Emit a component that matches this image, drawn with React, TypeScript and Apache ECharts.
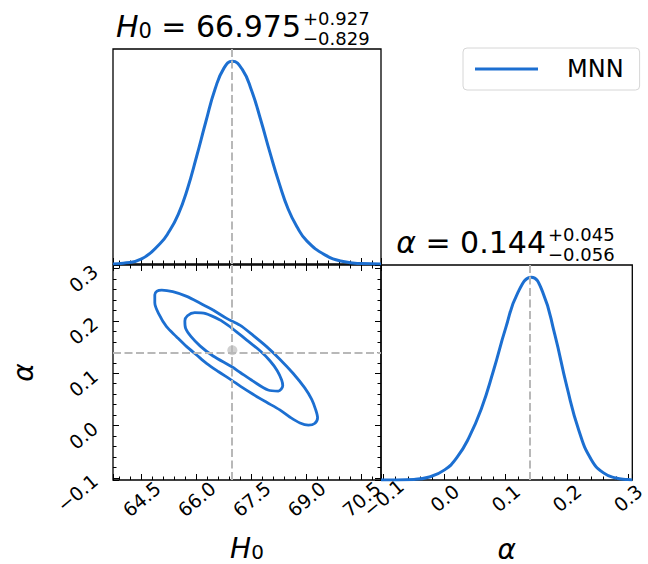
import { useEffect, useRef } from 'react';
import * as echarts from 'echarts';

// ---- 1D marginal of H0 (relative density) ----
const h0Grid = [63.72, 64.0, 64.5, 65.0, 65.25, 65.5, 65.75, 66.0, 66.25, 66.5, 66.75, 66.975, 67.25, 67.5, 67.75, 68.0, 68.25, 68.5, 68.75, 69.0, 69.5, 70.0, 70.5, 71.03];
const h0Density = [0.0, 0.004, 0.025, 0.1, 0.16, 0.245, 0.37, 0.53, 0.7, 0.86, 0.967, 1.0, 0.958, 0.855, 0.71, 0.55, 0.4, 0.27, 0.18, 0.115, 0.045, 0.012, 0.002, 0.0];

// ---- 1D marginal of alpha ----
const alphaGrid = [-0.104, -0.05, -0.025, 0.0, 0.02, 0.04, 0.06, 0.08, 0.1, 0.12, 0.142, 0.16, 0.18, 0.2, 0.22, 0.24, 0.26, 0.28, 0.3, 0.307];
const alphaDensity = [0.0, 0.003, 0.015, 0.05, 0.11, 0.21, 0.35, 0.54, 0.75, 0.925, 1.0, 0.93, 0.72, 0.46, 0.24, 0.1, 0.035, 0.01, 0.002, 0.0];

// ---- 2D contours (outer = 95%, inner = 68%) ----
const outerH0 = [66.45, 66.82, 67.18, 67.55, 67.91, 68.27, 68.63, 68.95, 69.14, 69.25, 69.3, 69.22, 69.05, 68.82, 68.55, 68.27, 67.9, 67.54, 67.2, 66.95, 66.6, 66.27, 66.0, 65.73, 65.45, 65.18, 64.98, 64.86, 64.86, 64.92, 65.05, 65.35, 65.73, 66.1, 66.45];
const outerAlpha = [0.221, 0.205, 0.192, 0.172, 0.151, 0.127, 0.1, 0.072, 0.05, 0.03, 0.015, 0.004, 0.001, 0.005, 0.016, 0.03, 0.045, 0.06, 0.075, 0.087, 0.103, 0.119, 0.135, 0.151, 0.17, 0.189, 0.212, 0.235, 0.25, 0.257, 0.259, 0.256, 0.247, 0.234, 0.221];
const innerH0 = [66.64, 66.97, 67.36, 67.73, 68.0, 68.2, 68.32, 68.35, 68.23, 67.95, 67.54, 67.2, 66.95, 66.45, 66.1, 65.85, 65.7, 65.68, 65.75, 65.95, 66.25, 66.64];
const innerAlpha = [0.202, 0.186, 0.164, 0.143, 0.124, 0.105, 0.087, 0.076, 0.066, 0.068, 0.085, 0.101, 0.113, 0.133, 0.152, 0.17, 0.186, 0.2, 0.21, 0.216, 0.214, 0.202];

// ---- best fit values, errors and axis ticks ----
const h0Best = 66.975;
const h0Err = ['+0.927', '\u22120.829'];
const alphaBest = 0.144;
const alphaErr = ['+0.045', '\u22120.056'];
const h0Ticks = [64.5, 66.0, 67.5, 69.0, 70.5];
const alphaTicks = [-0.1, 0.0, 0.1, 0.2, 0.3];
const h0Range = [63.72, 71.03];
const alphaRange = [-0.104, 0.307];
const legendName = 'MNN';

const BLUE = '#1c6fd1';
const GRAY = '#b8b8b8';
const FONT = 'DejaVu Sans';

const fmtTick = (ticks: number[]) => (v: number) => {
  const hit = ticks.find((t) => Math.abs(t - v) < 1e-6);
  return hit === undefined ? '' : hit.toFixed(1).replace('-', '\u2212');
};

const tick = { show: true, inside: true, length: 6, lineStyle: { color: '#000', width: 1 } };
const minor = { show: true, splitNumber: 5, length: 3.5, lineStyle: { color: '#000', width: 1 } };
const noLine = { show: false, onZero: false };

const h0AxisBase = {
  type: 'value',
  min: h0Range[0],
  max: h0Range[1],
  minInterval: 1.5,
  maxInterval: 1.5,
  axisLine: noLine,
  axisTick: tick,
  minorTick: minor,
  splitLine: { show: false },
};
const alphaAxisBase = {
  type: 'value',
  min: alphaRange[0],
  max: alphaRange[1],
  minInterval: 0.1,
  maxInterval: 0.1,
  axisLine: noLine,
  axisTick: tick,
  minorTick: minor,
  splitLine: { show: false },
};
const densAxis = {
  type: 'value',
  min: 0,
  max: 1.06,
  show: false,
  axisLine: noLine,
  splitLine: { show: false },
};

const labelBase = { fontFamily: FONT, fontSize: 19, color: '#000', rotate: 40 };
const dashed = { color: GRAY, type: [8, 3.5], width: 2 };

const gridBase = { show: true, borderColor: '#000', borderWidth: 1.3, containLabel: false };

const titleRich = {
  i: { fontFamily: FONT, fontStyle: 'italic', fontSize: 30, fill: '#000' },
  s: { fontFamily: FONT, fontSize: 21, fill: '#000', verticalAlign: 'bottom' },
  n: { fontFamily: FONT, fontSize: 30, fill: '#000' },
};

export default function App() {
  const ref = useRef<HTMLDivElement>(null);
  useEffect(() => {
    if (!ref.current) return;
    const chart = echarts.init(ref.current, undefined, { renderer: 'svg' });
    const h0Line = h0Grid.map((x, i) => [x, h0Density[i]]);
    const alphaLine = alphaGrid.map((x, i) => [x, alphaDensity[i]]);
    const outer = outerH0.map((x, i) => [x, outerAlpha[i]]);
    const inner = innerH0.map((x, i) => [x, innerAlpha[i]]);

    const errText = (err: string[]) => ({
      text: err.join('\n'),
      fontFamily: FONT,
      fontSize: 18,
      lineHeight: 20,
      fill: '#000',
      align: 'left',
      verticalAlign: 'middle',
    });

    const option: any = {
      animation: false,
      textStyle: { fontFamily: FONT },
      grid: [
        { ...gridBase, left: 113, top: 49, width: 268, height: 215 },
        { ...gridBase, left: 113, top: 265, width: 268, height: 215 },
        { ...gridBase, left: 381, top: 265, width: 266, height: 215 },
      ],
      xAxis: [
        { ...h0AxisBase, gridIndex: 0, position: 'bottom', axisLabel: { show: false } },
        {
          ...h0AxisBase,
          gridIndex: 1,
          position: 'bottom',
          axisLabel: { ...labelBase, align: 'center', verticalAlign: 'middle', margin: 19, formatter: fmtTick(h0Ticks) },
          name: '{i|H}{s|0}',
          nameLocation: 'middle',
          nameGap: 68,
          nameTextStyle: {
            verticalAlign: 'middle',
            rich: {
              i: { fontFamily: FONT, fontStyle: 'italic', fontSize: 28, color: '#000' },
              s: { fontFamily: FONT, fontSize: 20, color: '#000', verticalAlign: 'bottom' },
            },
          },
        },
        { ...h0AxisBase, gridIndex: 1, position: 'top', axisLabel: { show: false } },
        {
          ...alphaAxisBase,
          gridIndex: 2,
          position: 'bottom',
          axisLabel: { ...labelBase, align: 'center', verticalAlign: 'middle', margin: 18, formatter: fmtTick(alphaTicks) },
          name: '\u03b1',
          nameLocation: 'middle',
          nameGap: 69,
          nameTextStyle: { verticalAlign: 'middle', fontFamily: FONT, fontStyle: 'italic', fontSize: 28, color: '#000' },
        },
      ],
      yAxis: [
        { ...densAxis, gridIndex: 0 },
        {
          ...alphaAxisBase,
          gridIndex: 1,
          position: 'left',
          axisLabel: { ...labelBase, margin: 18, formatter: fmtTick(alphaTicks) },
          name: '\u03b1',
          nameLocation: 'middle',
          nameGap: 90,
          nameTextStyle: { verticalAlign: 'middle', fontFamily: FONT, fontStyle: 'italic', fontSize: 28, color: '#000' },
        },
        { ...alphaAxisBase, gridIndex: 1, position: 'right', axisLabel: { show: false } },
        { ...densAxis, gridIndex: 2 },
      ],
      legend: {
        data: [legendName],
        left: 463,
        top: 48,
        icon: 'rect',
        itemWidth: 63,
        itemHeight: 3,
        backgroundColor: '#fff',
        borderColor: '#d6d6d6',
        borderWidth: 1,
        borderRadius: 4,
        padding: [9, 16, 9, 12],
        textStyle: { fontFamily: FONT, fontSize: 24, color: '#000', padding: [0, 16, 0, 24] },
      },
      graphic: [
        {
          type: 'text',
          x: 301,
          y: 26.5,
          style: {
            text: '{i|H}{s|0}{n| = 66.975}',
            align: 'right',
            verticalAlign: 'middle',
            fill: '#000',
            rich: titleRich,
          },
        },
        { type: 'text', x: 303, y: 28.7, style: errText(h0Err) },
        {
          type: 'text',
          x: 546,
          y: 242.5,
          style: {
            text: '{i|\u03b1}{n| = 0.144}',
            align: 'right',
            verticalAlign: 'middle',
            fill: '#000',
            rich: titleRich,
          },
        },
        { type: 'text', x: 548, y: 244, style: errText(alphaErr) },
      ],
      series: [
        {
          name: legendName,
          type: 'line',
          xAxisIndex: 0,
          yAxisIndex: 0,
          data: h0Line,
          smooth: true,
          showSymbol: false,
          lineStyle: { color: BLUE, width: 3 },
          itemStyle: { color: BLUE },
          z: 3,
          markLine: {
            silent: true,
            symbol: ['none', 'none'],
            label: { show: false },
            lineStyle: dashed,
            data: [{ xAxis: h0Best }],
          },
        },
        {
          name: 'outer',
          type: 'line',
          xAxisIndex: 1,
          yAxisIndex: 1,
          data: outer,
          smooth: 0.3,
          showSymbol: false,
          lineStyle: { color: BLUE, width: 2.8 },
          itemStyle: { color: BLUE },
          z: 4,
        },
        {
          name: 'inner',
          type: 'line',
          xAxisIndex: 1,
          yAxisIndex: 1,
          data: inner,
          smooth: 0.3,
          showSymbol: false,
          lineStyle: { color: BLUE, width: 2.8 },
          itemStyle: { color: BLUE },
          z: 4,
        },
        {
          name: 'best',
          type: 'scatter',
          xAxisIndex: 1,
          yAxisIndex: 1,
          data: [[h0Best, alphaBest]],
          symbolSize: 10,
          itemStyle: { color: '#c4c4c4' },
          z: 2,
          markLine: {
            silent: true,
            symbol: ['none', 'none'],
            label: { show: false },
            lineStyle: dashed,
            data: [{ xAxis: h0Best }, { yAxis: alphaBest }],
          },
        },
        {
          name: 'alpha',
          type: 'line',
          xAxisIndex: 3,
          yAxisIndex: 3,
          data: alphaLine,
          smooth: true,
          showSymbol: false,
          lineStyle: { color: BLUE, width: 3 },
          itemStyle: { color: BLUE },
          z: 3,
          markLine: {
            silent: true,
            symbol: ['none', 'none'],
            label: { show: false },
            lineStyle: dashed,
            data: [{ xAxis: alphaBest }],
          },
        },
      ],
    };
    chart.setOption(option);
    return () => chart.dispose();
  }, []);
  return (
    <div
      ref={ref}
      style={{ position: 'fixed', left: 0, top: 0, width: 648, height: 564, background: '#fff' }}
    />
  );
}
